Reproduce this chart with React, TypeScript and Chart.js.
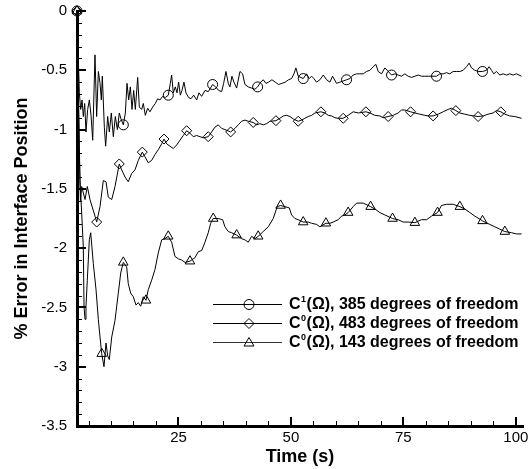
import React, { useEffect, useRef } from "react";
import { Chart, registerables } from "chart.js";

Chart.register(...registerables);

// ---- axis ticks ----
const xTickValues = [25, 50, 75, 100];
const yTickValues = [0, -0.5, -1, -1.5, -2, -2.5, -3, -3.5];
const xMinorStep = 5;
const yMinorStep = 0.1;
const xMin = 2.44;
const xMax = 101.6;
const yMin = -3.5;
const yMax = 0;

// ---- series 1: C1(Ω), 385 dof ----
const s1X = [2.44, 2.96, 3.26, 3.56, 3.85, 4.15, 4.44, 4.81, 5.19, 5.56, 5.93, 6.44, 6.81, 7.19, 7.56, 7.85, 8.07, 8.52, 8.81, 9.26, 9.63, 10.07, 10.52, 10.96, 11.41, 11.85, 12.3, 12.74, 13.19, 13.56, 13.93, 14.3, 14.67, 15.04, 15.41, 15.93, 16.3, 16.81, 17.19, 17.63, 18.15, 18.67, 19.26, 19.85, 20.37, 20.89, 21.48, 22.07, 22.74, 23.19, 23.48, 23.85, 24.3, 24.67, 25.04, 25.41, 25.78, 26.22, 26.67, 27.26, 27.78, 28.37, 29.04, 29.56, 30.15, 30.89, 31.63, 32.59, 33.26, 33.93, 34.6, 35.04, 35.56, 36.07, 36.44, 36.89, 37.33, 37.93, 38.67, 39.26, 39.78, 40.52, 41.26, 42.0, 42.6, 43.26, 43.85, 44.44, 45.04, 45.78, 46.52, 47.26, 48.0, 48.74, 49.48, 50.15, 50.67, 51.11, 51.63, 52.74, 53.48, 54.07, 54.6, 55.11, 55.7, 56.44, 57.19, 57.93, 58.67, 59.26, 60.15, 60.89, 61.63, 62.37, 63.11, 63.85, 64.59, 65.3, 66.07, 66.81, 67.56, 68.3, 68.89, 69.41, 70.15, 70.89, 71.41, 72.37, 73.11, 73.85, 74.59, 75.33, 76.07, 76.81, 77.56, 78.3, 79.04, 79.78, 80.52, 81.26, 82.37, 83.11, 83.85, 84.59, 85.33, 86.07, 86.81, 87.56, 88.3, 89.04, 89.63, 90.15, 90.89, 91.63, 92.59, 93.48, 94.07, 94.6, 95.11, 95.7, 96.44, 97.19, 97.93, 98.67, 99.41, 100.15, 101.26];
const s1Y = [0, -0.69, -0.83, -0.75, -0.89, -0.78, -1.02, -0.83, -0.75, -0.88, -1.09, -0.37, -0.89, -0.51, -0.61, -0.75, -0.55, -0.98, -1.14, -0.89, -1.02, -0.86, -1.06, -0.89, -1.0, -0.86, -0.92, -0.96, -0.86, -0.61, -0.75, -0.64, -0.83, -0.67, -0.83, -0.56, -0.81, -0.83, -0.78, -0.88, -0.82, -0.85, -0.81, -0.78, -0.74, -0.75, -0.72, -0.73, -0.71, -0.61, -0.54, -0.69, -0.64, -0.69, -0.6, -0.71, -0.67, -0.6, -0.69, -0.73, -0.74, -0.71, -0.75, -0.69, -0.72, -0.67, -0.68, -0.62, -0.64, -0.67, -0.68, -0.61, -0.51, -0.61, -0.64, -0.55, -0.6, -0.65, -0.51, -0.53, -0.62, -0.64, -0.65, -0.66, -0.64, -0.6, -0.58, -0.61, -0.6, -0.58, -0.6, -0.62, -0.61, -0.6, -0.58, -0.57, -0.53, -0.48, -0.55, -0.57, -0.53, -0.57, -0.55, -0.57, -0.6, -0.58, -0.54, -0.58, -0.6, -0.55, -0.61, -0.6, -0.59, -0.58, -0.57, -0.54, -0.53, -0.53, -0.53, -0.51, -0.5, -0.47, -0.45, -0.51, -0.53, -0.48, -0.5, -0.54, -0.53, -0.54, -0.55, -0.53, -0.55, -0.56, -0.55, -0.54, -0.55, -0.55, -0.55, -0.55, -0.55, -0.53, -0.53, -0.52, -0.53, -0.51, -0.51, -0.51, -0.5, -0.47, -0.44, -0.48, -0.5, -0.51, -0.51, -0.5, -0.47, -0.5, -0.53, -0.51, -0.54, -0.53, -0.54, -0.53, -0.54, -0.53, -0.55];
const s1MarkX = [2.44, 12.74, 22.74, 32.59, 42.6, 52.74, 62.37, 72.37, 82.37, 92.59];
const s1MarkY = [0, -0.96, -0.71, -0.62, -0.64, -0.57, -0.58, -0.54, -0.55, -0.51];

// ---- series 2: C0(Ω), 483 dof ----
const s2X = [2.44, 2.9, 3.2, 3.49, 4.22, 4.73, 5.33, 6.44, 6.82, 7.56, 8.29, 8.89, 9.4, 10.16, 10.89, 11.84, 12.38, 13.11, 13.84, 14.6, 15.33, 16.07, 16.96, 17.56, 18.29, 19.04, 19.78, 20.51, 21.27, 21.78, 22.38, 23.11, 23.84, 24.6, 25.33, 26.07, 26.82, 27.56, 28.29, 29.04, 29.78, 30.51, 31.62, 32.38, 33.11, 33.84, 34.6, 35.33, 36.6, 37.56, 38.29, 39.04, 39.78, 40.51, 41.62, 42.38, 43.11, 43.84, 44.6, 45.33, 46.67, 47.56, 48.29, 49.04, 49.78, 50.51, 51.62, 52.38, 53.11, 53.84, 54.6, 55.33, 56.67, 57.56, 58.29, 59.04, 59.78, 60.51, 61.62, 62.73, 63.84, 64.96, 66.67, 67.56, 68.67, 69.78, 70.51, 71.62, 72.73, 73.84, 74.6, 75.33, 76.6, 77.56, 78.67, 79.78, 80.51, 81.62, 82.73, 83.84, 84.96, 85.71, 86.67, 87.56, 88.67, 89.78, 90.67, 91.62, 92.73, 93.84, 94.96, 95.71, 96.67, 97.56, 98.67, 99.78, 101.27];
const s2Y = [0, -1.1, -1.6, -1.48, -1.59, -1.48, -1.59, -1.73, -1.78, -1.65, -1.43, -1.44, -1.57, -1.59, -1.48, -1.29, -1.34, -1.4, -1.44, -1.37, -1.34, -1.26, -1.19, -1.23, -1.28, -1.26, -1.21, -1.17, -1.12, -1.08, -1.12, -1.14, -1.16, -1.13, -1.09, -1.05, -1.01, -1.03, -1.06, -1.05, -1.06, -1.07, -1.06, -1.02, -0.98, -0.96, -0.99, -1.0, -1.02, -0.99, -0.96, -0.93, -0.92, -0.93, -0.94, -0.96, -0.95, -0.96, -0.95, -0.93, -0.925, -0.905, -0.885, -0.88, -0.89, -0.91, -0.93, -0.92, -0.905, -0.89, -0.88, -0.86, -0.85, -0.86, -0.88, -0.885, -0.9, -0.905, -0.905, -0.88, -0.85, -0.86, -0.85, -0.86, -0.88, -0.885, -0.9, -0.89, -0.88, -0.86, -0.835, -0.835, -0.85, -0.86, -0.87, -0.88, -0.885, -0.885, -0.87, -0.85, -0.83, -0.82, -0.84, -0.86, -0.87, -0.88, -0.885, -0.89, -0.885, -0.87, -0.86, -0.84, -0.85, -0.87, -0.885, -0.89, -0.905];
const s2MarkX = [2.44, 6.82, 11.84, 16.96, 21.78, 26.82, 31.62, 36.6, 41.62, 46.67, 51.62, 56.67, 61.62, 66.67, 71.62, 76.6, 81.62, 86.67, 91.62, 96.67];
const s2MarkY = [0, -1.78, -1.29, -1.19, -1.08, -1.01, -1.06, -1.02, -0.94, -0.925, -0.93, -0.85, -0.905, -0.85, -0.89, -0.85, -0.885, -0.84, -0.89, -0.85];

// ---- series 3: C0(Ω), 143 dof ----
const s3X = [2.44, 3.1, 3.49, 3.84, 4.0, 4.22, 4.44, 4.73, 5.18, 5.49, 6.07, 6.67, 7.18, 7.56, 7.93, 8.44, 8.89, 9.27, 9.62, 10.16, 10.89, 11.62, 12.16, 12.73, 13.49, 13.84, 14.38, 14.96, 15.56, 16.07, 16.6, 17.18, 17.78, 18.29, 19.04, 19.78, 20.51, 21.27, 22.0, 22.73, 23.49, 24.22, 24.96, 25.71, 26.44, 27.56, 28.67, 29.4, 30.16, 30.89, 31.62, 32.16, 32.73, 33.84, 34.82, 35.33, 36.07, 36.82, 37.93, 39.04, 39.78, 40.51, 41.27, 42.0, 42.73, 43.84, 44.96, 46.07, 46.96, 47.71, 48.67, 49.62, 50.16, 50.89, 51.62, 52.73, 53.84, 54.6, 55.71, 56.44, 57.78, 58.67, 59.4, 60.51, 61.27, 62.0, 62.73, 63.84, 64.6, 66.07, 67.71, 68.67, 69.78, 70.89, 72.6, 73.84, 74.96, 76.07, 77.56, 79.04, 80.16, 81.27, 82.6, 83.49, 84.6, 86.07, 87.56, 88.67, 89.78, 90.89, 92.6, 94.22, 95.33, 96.44, 97.56, 99.04, 100.16, 101.27];
const s3Y = [0, -1.43, -1.71, -1.99, -2.49, -2.6, -2.49, -2.27, -1.93, -1.87, -2.13, -2.35, -2.6, -2.75, -2.89, -3.0, -2.8, -2.91, -2.94, -2.75, -2.61, -2.38, -2.21, -2.12, -2.16, -2.3, -2.38, -2.41, -2.48, -2.46, -2.49, -2.41, -2.44, -2.35, -2.27, -2.18, -2.04, -1.93, -1.92, -1.9, -1.95, -2.07, -2.09, -2.1, -2.12, -2.11, -2.08, -2.03, -2.02, -1.95, -1.87, -1.79, -1.75, -1.75, -1.76, -1.82, -1.86, -1.87, -1.89, -1.92, -1.93, -1.95, -1.9, -1.92, -1.9, -1.86, -1.82, -1.75, -1.65, -1.64, -1.65, -1.66, -1.72, -1.75, -1.76, -1.78, -1.78, -1.79, -1.8, -1.82, -1.79, -1.79, -1.78, -1.76, -1.73, -1.72, -1.7, -1.65, -1.62, -1.62, -1.65, -1.67, -1.7, -1.72, -1.75, -1.76, -1.78, -1.78, -1.785, -1.76, -1.76, -1.73, -1.7, -1.64, -1.63, -1.63, -1.65, -1.67, -1.7, -1.73, -1.77, -1.8, -1.82, -1.84, -1.86, -1.87, -1.88, -1.88];
const s3MarkX = [2.44, 7.93, 12.73, 17.78, 22.73, 27.56, 32.73, 37.93, 42.73, 47.71, 52.73, 57.78, 62.73, 67.71, 72.6, 77.56, 82.6, 87.56, 92.6, 97.56];
const s3MarkY = [0, -2.89, -2.12, -2.44, -1.9, -2.11, -1.75, -1.89, -1.9, -1.64, -1.78, -1.79, -1.7, -1.65, -1.75, -1.785, -1.7, -1.65, -1.77, -1.86];

// ---- text ----
const xTitle = "Time (s)";
const yTitle = "% Error in Interface Position";
const legendSup = ["1", "0", "0"];
const legendRest = ["(Ω), 385 degrees of freedom", "(Ω), 483 degrees of freedom", "(Ω), 143 degrees of freedom"];
const legendStyles = ["circle", "diamond", "triangle"];
const legendWidths = [1.2, 1.2, 0.8];

const FONT = "'Liberation Sans', Arial, Helvetica, sans-serif";
const W = 532;
const H = 469;

const pts = (xs: number[], ys: number[]) => xs.map((x, i) => ({ x, y: ys[i] }));
const isXMajor = (v: number) => xTickValues.some((t) => Math.abs(t - v) < 1e-6);

function drawMarker(ctx: CanvasRenderingContext2D, style: string, x: number, y: number) {
  ctx.beginPath();
  if (style === "circle") {
    ctx.arc(x, y, 5, 0, Math.PI * 2);
  } else if (style === "diamond") {
    ctx.moveTo(x, y - 5);
    ctx.lineTo(x + 5, y);
    ctx.lineTo(x, y + 5);
    ctx.lineTo(x - 5, y);
    ctx.closePath();
  } else {
    ctx.moveTo(x, y - 5);
    ctx.lineTo(x + 5, y + 3.5);
    ctx.lineTo(x - 5, y + 3.5);
    ctx.closePath();
  }
  ctx.stroke();
}

const legendPlugin = {
  id: "customLegend",
  afterDraw(chart: any) {
    const ctx: CanvasRenderingContext2D = chart.ctx;
    const area = chart.chartArea;
    const B = Math.round(area.bottom);
    const R = Math.round(area.right);
    ctx.save();
    ctx.strokeStyle = "#000";
    ctx.fillStyle = "#000";
    const x0 = R - 310;
    const x1 = x0 + 69;
    const mx = x0 + 36;
    const tx = x1 + 7;
    for (let i = 0; i < 3; i++) {
      const y = B - 122 + i * 19;
      ctx.lineWidth = legendWidths[i];
      ctx.beginPath();
      ctx.moveTo(x0, y + 0.5);
      ctx.lineTo(x1, y + 0.5);
      ctx.stroke();
      ctx.lineWidth = 1;
      drawMarker(ctx, legendStyles[i], mx, y + 0.5);
      ctx.textBaseline = "middle";
      ctx.textAlign = "left";
      ctx.font = `bold 16px ${FONT}`;
      ctx.fillText("C", tx, y + 1);
      const wC = ctx.measureText("C").width;
      ctx.font = `bold 9px ${FONT}`;
      ctx.fillText(legendSup[i], tx + wC + 0.5, y - 4);
      const wS = ctx.measureText(legendSup[i]).width;
      ctx.font = `bold 16px ${FONT}`;
      ctx.fillText(legendRest[i], tx + wC + wS + 1, y + 1);
    }
    ctx.restore();
  },
};

// axes + inward major/minor ticks, drawn on an overlay canvas from the chart's own scales
function drawAxesOverlay(chart: any, canvas: HTMLCanvasElement) {
  const ctx = canvas.getContext("2d");
  if (!ctx) return;
  ctx.setTransform(1, 0, 0, 1, 0, 0);
  ctx.clearRect(0, 0, canvas.width, canvas.height);
  const area = chart.chartArea;
  const xs = chart.scales.x;
  const ys = chart.scales.y;
  const L = Math.round(area.left);
  const B = Math.round(area.bottom);
  const T = Math.round(area.top);
  const R = Math.round(area.right);
  ctx.fillStyle = "#000";
  ctx.fillRect(L - 1, T, 3, B - T + 2);
  ctx.fillRect(L - 1, B - 1, R - L + 1, 3);
  const ny = Math.round((yMax - yMin) / yMinorStep);
  for (let k = 0; k <= ny; k++) {
    const v = yMin + k * yMinorStep;
    const major = Math.abs(v / 0.5 - Math.round(v / 0.5)) < 1e-6;
    const py = Math.round(ys.getPixelForValue(v));
    if (major) ctx.fillRect(L, py - 1, 9, 2);
    else ctx.fillRect(L, py, 5, 1);
  }
  for (let v = xMinorStep; v <= xMax; v += xMinorStep) {
    const major = isXMajor(v);
    const px = Math.round(xs.getPixelForValue(v));
    if (major) ctx.fillRect(px - 1, B - 9, 2, 9);
    else ctx.fillRect(px, B - 5, 1, 5);
  }
}

export default function App() {
  const canvasRef = useRef<HTMLCanvasElement | null>(null);
  const overlayRef = useRef<HTMLCanvasElement | null>(null);

  useEffect(() => {
    const canvas = canvasRef.current;
    if (!canvas) return;
    Chart.defaults.font.family = FONT;
    Chart.defaults.color = "#000";
    const line = (xs: number[], ys: number[], w: number) => ({
      data: pts(xs, ys),
      borderColor: "#000",
      borderWidth: w,
      pointRadius: 0,
    });
    const marks = (xs: number[], ys: number[], style: string) => ({
      data: pts(xs, ys),
      showLine: false,
      clip: false,
      pointStyle: style,
      pointRadius: style === "triangle" ? 5.5 : 5,
      pointBorderColor: "#000",
      pointBackgroundColor: "rgba(0,0,0,0)",
      pointBorderWidth: 1,
      borderColor: "#000",
    });
    const chart = new Chart(canvas, {
      type: "line",
      data: {
        datasets: [
          line(s1X, s1Y, 1),
          line(s2X, s2Y, 1),
          line(s3X, s3Y, 1),
          marks(s1MarkX, s1MarkY, "circle"),
          marks(s2MarkX, s2MarkY, "rectRot"),
          marks(s3MarkX, s3MarkY, "triangle"),
        ] as any,
      },
      options: {
        animation: false,
        responsive: false,
        events: [],
        layout: { padding: { left: 0, right: 9, top: 11, bottom: 0 } },
        plugins: { legend: { display: false }, tooltip: { enabled: false } },
        scales: {
          x: {
            type: "linear",
            min: xMin,
            max: xMax,
            afterBuildTicks: (s: any) => {
              s.ticks = xTickValues.map((v) => ({ value: v }));
            },
            afterFit: (s: any) => {
              s.height = 43;
              s.paddingLeft = 0;
              s.paddingRight = 0;
            },
            grid: { display: false, drawTicks: false },
            border: { display: true, color: "#000", width: 3 },
            ticks: {
              padding: 3,
              font: { size: 15 },
              color: "#000",
              maxRotation: 0,
              autoSkip: false,
              callback: (v: any) => String(v),
            },
            title: {
              display: true,
              text: xTitle,
              font: { size: 18, weight: "bold" },
              color: "#000",
              padding: { top: 0, bottom: 1 },
            },
          },
          y: {
            type: "linear",
            min: yMin,
            max: yMax,
            afterBuildTicks: (s: any) => {
              s.ticks = yTickValues.map((v) => ({ value: v }));
            },
            afterFit: (s: any) => {
              s.width = 77;
              s.paddingTop = 0;
              s.paddingBottom = 0;
            },
            grid: { display: false, drawTicks: false },
            border: { display: true, color: "#000", width: 3 },
            ticks: {
              padding: 10,
              font: { size: 15 },
              color: "#000",
              autoSkip: false,
              callback: (v: any) => String(v),
            },
            title: {
              display: true,
              text: yTitle,
              font: { size: 18, weight: "bold" },
              color: "#000",
              padding: { top: 11, bottom: 0 },
            },
          },
        },
      },
      plugins: [legendPlugin],
    } as any);
    if (overlayRef.current) drawAxesOverlay(chart, overlayRef.current);
    return () => chart.destroy();
  }, []);

  return (
    <div style={{ position: "absolute", left: 0, top: 0, width: W, height: H, background: "#fff" }}>
      <canvas ref={canvasRef} width={W} height={H} style={{ display: "block", position: "absolute", left: 0, top: 0 }} />
      <canvas
        ref={overlayRef}
        width={W}
        height={H}
        style={{ display: "block", position: "absolute", left: 0, top: 0, pointerEvents: "none" }}
      />
    </div>
  );
}
